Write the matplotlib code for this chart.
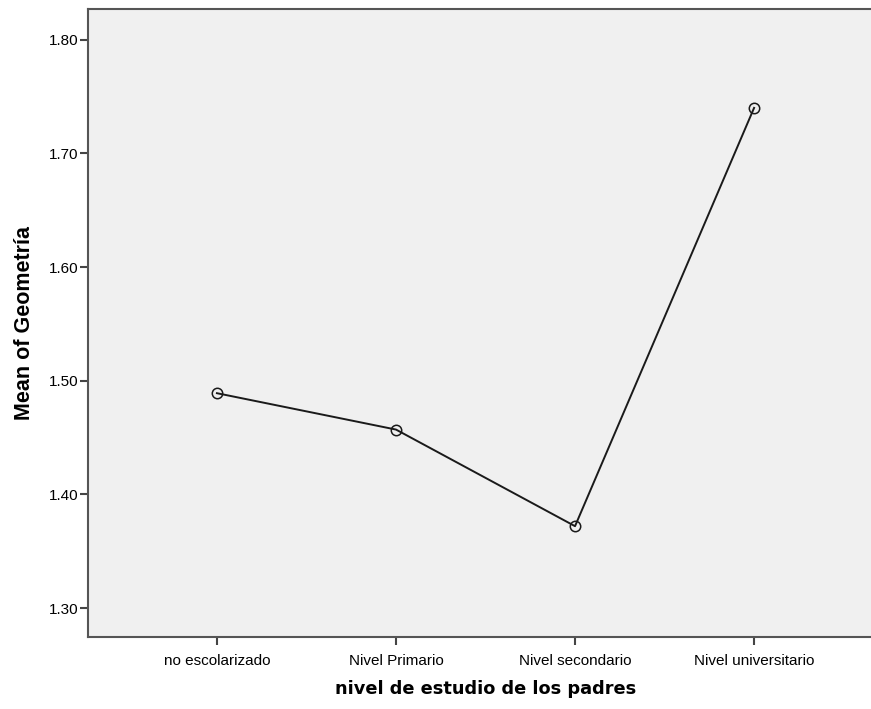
import matplotlib
matplotlib.use("Agg")
import matplotlib.pyplot as plt

categories = ["no escolarizado", "Nivel Primario", "Nivel secondario", "Nivel universitario"]
means = [1.489, 1.457, 1.372, 1.740]
yticks = [1.30, 1.40, 1.50, 1.60, 1.70, 1.80]

fig = plt.figure(figsize=(8.71, 7.09), dpi=100)
ax = fig.add_axes([88 / 871, 1 - 637 / 709, 795 / 871, 628 / 709])
ax.set_facecolor("#f0f0f0")

x = list(range(len(categories)))
ax.plot(x, means, color="#1a1a1a", linewidth=1.4, marker="o", markersize=7.5,
        markerfacecolor="none", markeredgecolor="#1a1a1a", markeredgewidth=1.1)

ax.set_xlim(-0.72, 3.72)
ax.set_ylim(1.2745, 1.827)
ax.set_xticks(x)
ax.set_xticklabels(categories, fontsize=11, family="Liberation Sans")
ax.set_yticks(yticks)
ax.set_yticklabels([f"{v:.2f}" for v in yticks], fontsize=11, family="Liberation Sans")
ax.tick_params(direction="out", length=6, width=1.5, color="#444444")
ax.tick_params(axis="y", pad=1)
ax.tick_params(axis="x", pad=6)

for s in ax.spines.values():
    s.set_color("#555555")
    s.set_linewidth(1.5)

ax.set_xlabel("nivel de estudio de los padres", fontsize=12.8, fontweight="bold",
              family="DejaVu Sans", labelpad=9)
ax.set_ylabel("Mean of Geometría", fontsize=15.5, fontweight="bold",
              family="Liberation Sans", labelpad=10)

fig.savefig("out.png", dpi=100)
